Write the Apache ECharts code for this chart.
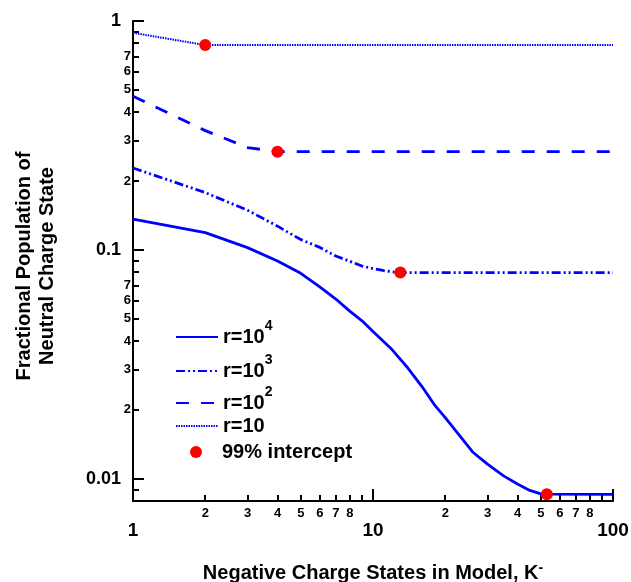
<!DOCTYPE html>
<html><head><meta charset="utf-8">
<script src="https://cdn.jsdelivr.net/npm/echarts@6/dist/echarts.min.js"></script>
<style>html,body{margin:0;padding:0;background:#fff}#c{width:631px;height:582px}</style>
</head><body><div id="c"></div>
<script>
// ---- data ----
const kR4 = [1,2,3,4,5,6,7,8,9,10,12,14,16,18,20,23,26,30,35,40,45,50,53,100];
const vR4 = [0.1362,0.119,0.1023,0.0895,0.079,0.069,0.061,0.054,0.049,0.044,0.0367,0.0304,0.0253,0.0211,0.0185,0.0154,0.0131,0.0116,0.0103,0.0095,0.0089,0.0086,0.00857,0.00855];
const kR3 = [1,2,3,4,5,6,7,8,9,10,11,12,13,100];
const vR3 = [0.228,0.178,0.149,0.127,0.111,0.1026,0.094,0.0892,0.085,0.0829,0.0813,0.0802,0.0796,0.0796];
const kR2 = [1,2,3,4,100];
const vR2 = [0.469,0.332,0.280,0.2687,0.2687];
const kR1 = [1,2,100];
const vR1 = [0.888,0.785,0.785];
const kDot = [2,4,13,53];
const vDot = [0.785,0.2687,0.0796,0.00857];

const xMajor = [1,10,100];
const xMinorTicks = [2,3,4,5,6,7,8,9,20,30,40,50,60,70,80,90];
const xMinorLabels = [2,3,4,5,6,7,8,20,30,40,50,60,70,80];
const yMajor = [0.01,0.1,1];
const yMinorTicks = [0.009,0.02,0.03,0.04,0.05,0.06,0.07,0.08,0.09,0.2,0.3,0.4,0.5,0.6,0.7,0.8,0.9];
const yMinorLabels = [0.02,0.03,0.04,0.05,0.06,0.07,0.2,0.3,0.4,0.5,0.6,0.7];

const names = ['r=10^4','r=10^3','r=10^2','r=10','99% intercept'];

// ---- chart ----
const FONT = 'Liberation Sans, Arial, sans-serif';
const BLUE = '#0000ff';
const RED = '#ff0000';
const pairs = (k, v) => k.map((x, i) => [x, v[i]]);
const digit = v => String(Math.round(v / Math.pow(10, Math.floor(Math.log10(v) + 1e-9))));
const axisLineStyle = {show: true, lineStyle: {color: '#000', width: 2}};

const richLegend = {
  b: {fontSize: 20, fontWeight: 'bold', fontFamily: FONT, color: '#000', lineHeight: 36},
  sup: {fontSize: 14, fontWeight: 'bold', fontFamily: FONT, color: '#000', lineHeight: 18, verticalAlign: 'top'},
  c: {fontSize: 20, fontWeight: 'bold', fontFamily: FONT, color: '#000', lineHeight: 22}
};
const legFmt = n => {
  const m = n.match(/^(.*)\^(\d)$/);
  return m ? '{b|' + m[1] + '}{sup|' + m[2] + '}' : '{c|' + n + '}';
};
const legendTops = [319, 353, 385, 416, 442];
const legendLefts = [175, 175, 175, 175, 190];
const hidden = {color: 'rgba(0,0,0,0)', borderColor: 'rgba(0,0,0,0)', borderWidth: 0};
const legends = names.map((n, i) => ({
  data: [n], left: legendLefts[i], top: legendTops[i], padding: 0,
  itemWidth: 42, itemHeight: i === 4 ? 12 : 14,
  selectedMode: false, formatter: legFmt,
  itemStyle: i === 4 ? {color: RED, opacity: 1, borderWidth: 0} : hidden,
  textStyle: {rich: richLegend}
}));

const option = {
  animation: false,
  backgroundColor: '#fff',
  grid: {left: 133, right: 18, top: 21, bottom: 81, containLabel: false, outerBoundsMode: 'none'},
  legend: legends,
  xAxis: [
    {type: 'log', logBase: 10, min: 1, max: 100, position: 'bottom', axisLine: axisLineStyle, splitLine: {show: false},
     axisTick: {show: true, inside: true, length: 12, customValues: xMajor, lineStyle: {color: '#000', width: 2}},
     axisLabel: {customValues: xMajor, margin: 20, fontSize: 19, fontWeight: 'bold', fontFamily: FONT, color: '#000', formatter: v => String(v)},
     name: 'Negative Charge States in Model, K{sup|-}', nameLocation: 'middle', nameGap: 60,
     nameTextStyle: {fontSize: 20, fontWeight: 'bold', fontFamily: FONT, color: '#000', lineHeight: 24,
       rich: {sup: {fontSize: 14, fontWeight: 'bold', fontFamily: FONT, color: '#000', verticalAlign: 'top', lineHeight: 10}}}},
    {type: 'log', logBase: 10, min: 1, max: 100, position: 'bottom', axisLine: {show: false}, splitLine: {show: false},
     axisTick: {show: true, inside: true, length: 6, customValues: xMinorTicks, lineStyle: {color: '#000', width: 2}},
     axisLabel: {customValues: xMinorLabels, margin: 6, fontSize: 13, fontWeight: 'bold', fontFamily: FONT, color: '#000', formatter: v => digit(v)}}
  ],
  yAxis: [
    {type: 'log', logBase: 10, min: 0.008, max: 1, position: 'left', axisLine: axisLineStyle, splitLine: {show: false},
     axisTick: {show: true, inside: true, length: 11, customValues: yMajor, lineStyle: {color: '#000', width: 2}},
     axisLabel: {customValues: yMajor, margin: 12, fontSize: 18, fontWeight: 'bold', fontFamily: FONT, color: '#000', formatter: v => String(v)},
     name: 'Fractional Population of\nNeutral Charge State', nameLocation: 'middle', nameGap: 74,
     nameTextStyle: {fontSize: 20, fontWeight: 'bold', fontFamily: FONT, color: '#000', lineHeight: 23, padding: [0,10,0,0]}},
    {type: 'log', logBase: 10, min: 0.008, max: 1, position: 'left', axisLine: {show: false}, splitLine: {show: false},
     axisTick: {show: true, inside: true, length: 6, customValues: yMinorTicks, lineStyle: {color: '#000', width: 2}},
     axisLabel: {customValues: yMinorLabels, margin: 2, fontSize: 13, fontWeight: 'bold', fontFamily: FONT, color: '#000', formatter: v => digit(v)}}
  ],
  series: [
    {name: names[0], type: 'line', data: pairs(kR4, vR4), symbol: 'none', lineStyle: {color: BLUE, width: 2.8, type: 'solid'}, itemStyle: {color: BLUE}},
    {name: names[1], type: 'line', data: pairs(kR3, vR3), symbol: 'none', lineStyle: {color: BLUE, width: 2.8, type: [9,3,2,3,2,3]}, itemStyle: {color: BLUE}},
    {name: names[2], type: 'line', data: pairs(kR2, vR2), symbol: 'none', lineStyle: {color: BLUE, width: 2.8, type: [13,12]}, itemStyle: {color: BLUE}},
    {name: names[3], type: 'line', data: pairs(kR1, vR1), symbol: 'none', lineStyle: {color: BLUE, width: 2, type: [1.5,1]}, itemStyle: {color: BLUE}},
    {name: names[4], type: 'scatter', data: pairs(kDot, vDot), symbol: 'circle', symbolSize: 12, itemStyle: {color: RED, opacity: 1}, z: 5}
  ]
};
const chart = echarts.init(document.getElementById('c'), null, {renderer: 'canvas'});
chart.setOption(option);
</script>
</body></html>
